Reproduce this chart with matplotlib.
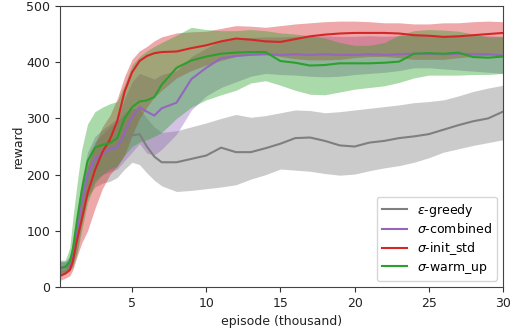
import matplotlib
matplotlib.use("Agg")
import matplotlib.pyplot as plt
import numpy as np

episodes = [0.15, 0.5, 0.8, 1.0, 1.3, 1.6, 2.0, 2.5, 3.0, 3.5, 4.0, 4.5, 5.0, 5.5, 6.0, 6.5,
            7, 8, 9, 10, 11, 12, 13, 14, 15, 16, 17, 18, 19, 20, 21, 22, 23, 24, 25, 26, 27, 28, 29, 30]

greedy_mean = [33, 35, 42, 60, 105, 150, 195, 222, 235, 245, 252, 265, 270, 272, 250, 232,
               222, 222, 228, 234, 248, 240, 240, 247, 255, 265, 266, 260, 252, 250, 257, 260, 265, 268, 272, 280, 288, 295, 300, 312]
greedy_hi = [45, 45, 55, 80, 130, 180, 230, 258, 272, 285, 295, 310, 318, 318, 300, 285,
             275, 278, 285, 292, 300, 307, 302, 305, 310, 315, 314, 310, 312, 315, 318, 321, 324, 328, 330, 333, 340, 348, 354, 359]
greedy_lo = [22, 24, 30, 42, 80, 120, 160, 178, 185, 188, 195, 210, 222, 218, 203, 190,
             180, 170, 172, 175, 178, 182, 192, 200, 210, 208, 206, 202, 199, 201, 207, 212, 216, 222, 230, 240, 246, 252, 257, 262]

comb_mean = [35, 36, 40, 55, 100, 150, 200, 228, 238, 245, 248, 275, 302, 320, 312, 305,
             318, 328, 370, 390, 407, 411, 413, 414, 413, 414, 413, 414, 413, 413, 414, 413, 414, 415, 415, 414, 415, 414, 414, 412]
comb_hi = [45, 46, 52, 75, 135, 190, 240, 268, 280, 290, 300, 335, 365, 380, 375, 370,
           378, 385, 410, 425, 438, 442, 444, 445, 445, 446, 446, 447, 446, 446, 447, 446, 447, 448, 448, 447, 448, 447, 447, 446]
comb_lo = [26, 27, 30, 38, 65, 110, 160, 190, 200, 205, 210, 225, 240, 255, 238, 235,
           245, 272, 315, 340, 355, 365, 375, 380, 378, 377, 375, 374, 375, 378, 380, 382, 385, 390, 390, 388, 386, 384, 382, 380]

init_mean = [20, 24, 30, 45, 85, 119, 167, 208, 240, 262, 295, 348, 382, 402, 411, 416,
             418, 419, 425, 430, 437, 442, 440, 437, 436, 441, 446, 449, 451, 452, 452, 452, 451, 448, 447, 445, 446, 448, 450, 452]
init_hi = [30, 32, 42, 65, 115, 160, 215, 255, 285, 305, 335, 375, 405, 420, 428, 438,
           445, 452, 454, 455, 460, 465, 464, 462, 465, 468, 470, 472, 473, 473, 472, 470, 470, 468, 468, 470, 470, 472, 473, 472]
init_lo = [12, 16, 20, 30, 55, 78, 100, 140, 175, 200, 215, 235, 270, 300, 320, 338,
           350, 372, 385, 395, 403, 410, 415, 415, 410, 406, 404, 404, 405, 408, 410, 410, 408, 405, 405, 405, 408, 410, 412, 415]

warm_mean = [33, 36, 45, 66, 120, 170, 224, 248, 253, 256, 265, 300, 320, 330, 332, 338,
             360, 390, 403, 410, 415, 417, 418, 418, 402, 399, 394, 395, 398, 398, 398, 399, 401, 415, 416, 415, 417, 409, 408, 410]
warm_hi = [48, 48, 70, 120, 185, 244, 290, 312, 320, 326, 330, 360, 395, 410, 420, 428,
           435, 448, 462, 458, 456, 456, 458, 456, 452, 450, 447, 443, 435, 430, 430, 435, 448, 456, 458, 457, 455, 450, 445, 445]
warm_lo = [22, 25, 30, 35, 60, 100, 150, 185, 200, 210, 215, 235, 250, 258, 262, 268,
           275, 300, 320, 333, 342, 350, 363, 367, 359, 350, 343, 342, 347, 352, 355, 358, 364, 372, 377, 377, 377, 378, 378, 380]

labels = [r'$\varepsilon$-greedy', r'$\sigma$-combined', r'$\sigma$-init_std', r'$\sigma$-warm_up']
colors = ['tab:gray', 'tab:purple', 'tab:red', 'tab:green']

series = [(greedy_mean, greedy_lo, greedy_hi),
          (comb_mean, comb_lo, comb_hi),
          (init_mean, init_lo, init_hi),
          (warm_mean, warm_lo, warm_hi)]

fig = plt.figure(figsize=(5.18, 3.30), dpi=100)
ax = fig.add_axes([0.116, 0.130, 0.855, 0.852])

x = np.array(episodes)
for (m, lo, hi), c, lab in zip(series, colors, labels):
    ax.plot(x, m, color=c, lw=1.5, label=lab)
    ax.fill_between(x, lo, hi, color=c, alpha=0.4, lw=0)

ax.set_xlim(0.15, 30)
ax.set_ylim(0, 500)
ax.set_xticks([5, 10, 15, 20, 25, 30])
ax.set_yticks([0, 100, 200, 300, 400, 500])
ax.tick_params(labelsize=9, color='#333333', labelcolor='#222222')
for sp in ax.spines.values():
    sp.set_color('#444444')
ax.set_xlabel('episode (thousand)', fontsize=9, color='#222222')
ax.set_ylabel('reward', fontsize=9, labelpad=1, color='#222222')
ax.legend(loc='lower right', fontsize=9, labelspacing=0.3)

fig.savefig('out.png', dpi=100)
